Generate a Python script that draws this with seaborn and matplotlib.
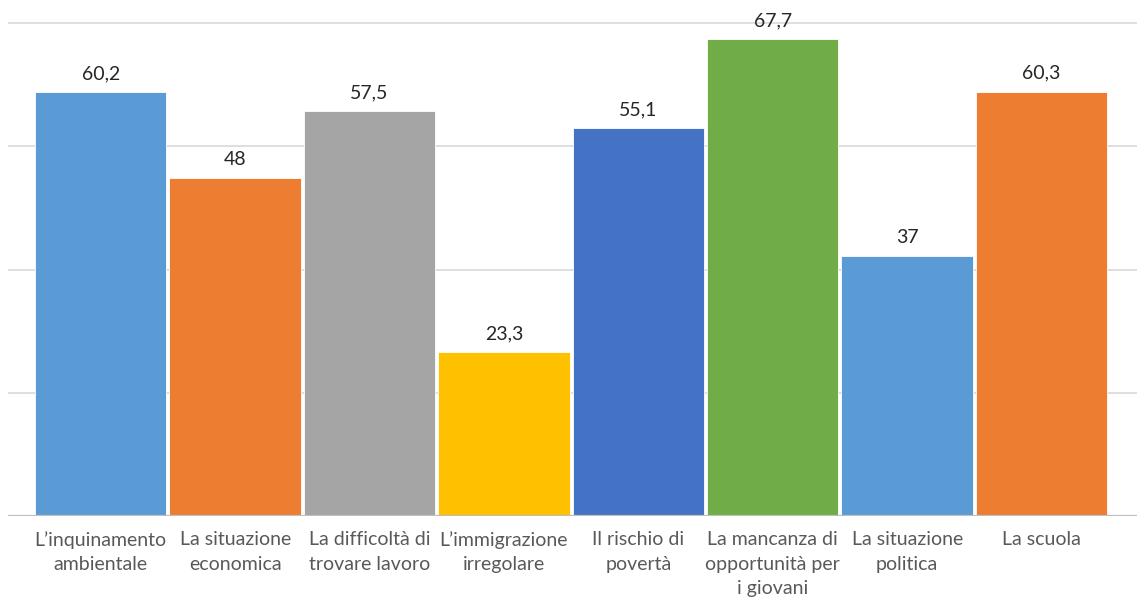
import matplotlib
matplotlib.use("Agg")
import matplotlib.pyplot as plt
import seaborn as sns
import pandas as pd

categories = [
    "L’inquinamento\nambientale",
    "La situazione\neconomica",
    "La difficoltà di\ntrovare lavoro",
    "L’immigrazione\nirregolare",
    "Il rischio di\npovertà",
    "La mancanza di\nopportunità per\ni giovani",
    "La situazione\npolitica",
    "La scuola",
]
values = [60.2, 48, 57.5, 23.3, 55.1, 67.7, 37, 60.3]
colors = ["#5B9BD5", "#ED7D31", "#A5A5A5", "#FFC000", "#4472C4", "#70AD47", "#5B9BD5", "#ED7D31"]
gridlines = [17.5, 35, 52.5, 70]

sns.set_theme(style="white")
plt.rcParams["font.family"] = ["Lato", "DejaVu Sans"]

fig = plt.figure(figsize=(11.37, 5.98), dpi=100)
ax = fig.add_axes([8 / 1137, 82 / 598, 1 - 8 / 1137, 516 / 598])

df = pd.DataFrame({"cat": categories, "val": values})
sns.barplot(data=df, x="cat", y="val", hue="cat", palette=colors, width=0.978,
            saturation=1, legend=False, ax=ax, edgecolor="white", linewidth=0.6, zorder=3)

ax.set_ylim(0, 73.3)
ax.set_xlim(-0.69, 7.71)
for g in gridlines:
    ax.axhline(g, color="#D9D9D9", lw=1.2, zorder=1)
ax.axhline(0, color="#BFBFBF", lw=1.6, zorder=4)

for sp in ax.spines.values():
    sp.set_visible(False)
ax.set_yticks([])
ax.set_xlabel("")
ax.set_ylabel("")
ax.tick_params(axis="x", length=0, pad=11, labelsize=14, labelcolor="#595959")
for t in ax.get_xticklabels():
    t.set_linespacing(1.52)
    t.set_verticalalignment("top")

for c in ax.containers:
    labels = [f"{v:g}".replace(".", ",") for v in c.datavalues]
    ax.bar_label(c, labels=labels, padding=7, fontsize=14, color="#262626")

fig.savefig("out.png", dpi=100)
